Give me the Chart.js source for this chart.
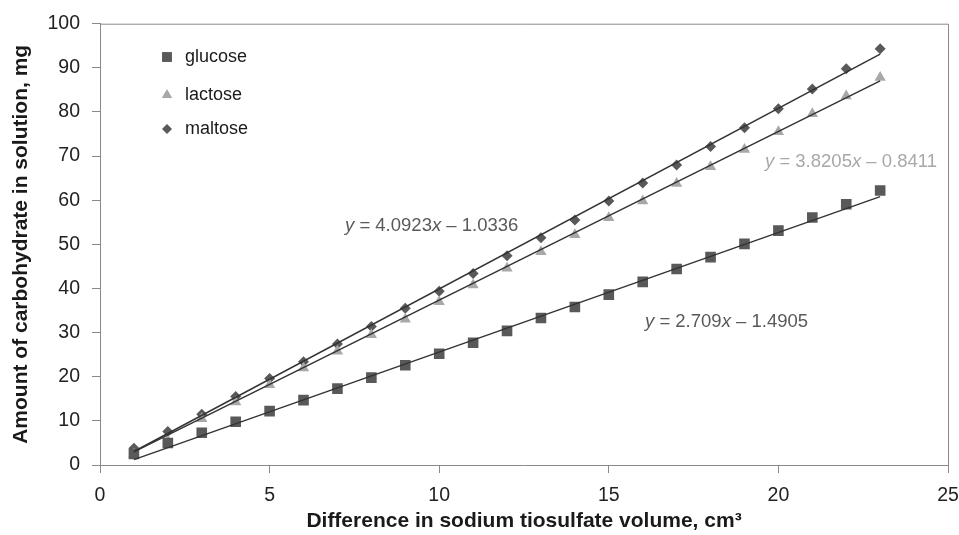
<!DOCTYPE html>
<html>
<head>
<meta charset="utf-8">
<script src="https://cdn.jsdelivr.net/npm/chart.js@4/dist/chart.umd.min.js"></script>
<style>
  html, body { margin: 0; padding: 0; background: #fff; }
  #wrap { width: 959px; height: 535px; position: relative; }
</style>
</head>
<body>
<div id="wrap"><canvas id="chart"></canvas></div>
<script>
// values
const volumes = [1, 2, 3, 4, 5, 6, 7, 8, 9, 10, 11, 12, 13, 14, 15, 16, 17, 18, 19, 20, 21, 22, 23];
const glucose = [2.5, 5, 7.3, 9.8, 12.2, 14.7, 17.3, 19.8, 22.6, 25.2, 27.7, 30.4, 33.3, 35.8, 38.6, 41.5, 44.4, 47.1, 50.1, 53.1, 56.1, 59.1, 62.2];
const lactose = [2.5, 5.5, 10.5, 14.3, 18.2, 22, 25.8, 29.5, 33, 37, 40.8, 44.6, 48.3, 52.2, 56, 59.8, 63.8, 67.6, 71.5, 75.5, 79.6, 83.6, 87.8];
const maltose = [3.8, 7.6, 11.5, 15.5, 19.6, 23.4, 27.4, 31.4, 35.5, 39.4, 43.4, 47.4, 51.5, 55.5, 59.8, 63.9, 68, 72.2, 76.4, 80.7, 85.2, 89.8, 94.3];

// trendline end points (x = 1 and x = 23)
const trendX = [1, 23];
const glucoseTrend = [1.22, 60.82];
const lactoseTrend = [2.98, 87.03];
const maltoseTrend = [3.06, 93.09];

const seriesNames = ['glucose', 'lactose', 'maltose'];
const equations = ['y = 2.709x \u2013 1.4905', 'y = 3.8205x \u2013 0.8411', 'y = 4.0923x \u2013 1.0336'];

const pts = (xs, ys) => xs.map((x, i) => ({ x: x, y: ys[i] }));

const DARK = '#595959';
const LIGHT = '#a8a8a8';
const AXIS = '#8a8a8a';
const FONT = "'Liberation Sans', Arial, sans-serif";

const markerStyles = [
    { pointStyle: 'rect', radius: 7.5, color: DARK },
    { pointStyle: 'triangle', radius: 6.5, color: LIGHT },
    { pointStyle: 'rectRot', radius: 5.5, color: DARK }
];

const trendDataset = (ys) => ({
    type: 'line',
    data: pts(trendX, ys),
    borderColor: '#333',
    borderWidth: 1.5,
    pointRadius: 0,
    fill: false,
    order: 0
});

const markerDataset = (name, ys, m) => ({
    type: 'scatter',
    label: name,
    data: pts(volumes, ys),
    pointStyle: m.pointStyle,
    pointRadius: m.radius,
    pointBackgroundColor: m.color,
    pointBorderColor: m.color,
    pointBorderWidth: 0,
    order: 1
});

// legend, equations and the frame drawn on top of the chart area
const extrasPlugin = {
    id: 'extras',
    afterDraw(chart) {
        const ctx = chart.ctx;
        const area = chart.chartArea;
        ctx.save();
        ctx.strokeStyle = AXIS;
        ctx.lineWidth = 1;
        ctx.beginPath();
        ctx.moveTo(area.left, area.top + 0.5);
        ctx.lineTo(area.right + 0.5, area.top + 0.5);
        ctx.lineTo(area.right + 0.5, area.bottom);
        ctx.stroke();

        // legend
        const legendY = [57, 95, 129];
        seriesNames.forEach((name, i) => {
            const m = markerStyles[i];
            ctx.fillStyle = m.color;
            ctx.strokeStyle = m.color;
            Chart.helpers.drawPoint(ctx, { pointStyle: m.pointStyle, radius: m.radius - 0.5, rotation: 0, borderWidth: 0 }, 167, legendY[i]);
            ctx.fillStyle = '#1a1a1a';
            ctx.font = '18px ' + FONT;
            ctx.textBaseline = 'middle';
            ctx.textAlign = 'left';
            ctx.fillText(name, 185, legendY[i]);
        });

        // trendline equations
        const drawEq = (text, x, y, color) => {
            ctx.fillStyle = color;
            ctx.textBaseline = 'middle';
            let cx = x;
            const parts = text.split(/(x|y)/).filter(s => s.length);
            parts.forEach(p => {
                ctx.font = (p === 'x' || p === 'y' ? 'italic ' : '') + '18.5px ' + FONT;
                ctx.fillText(p, cx, y);
                cx += ctx.measureText(p).width;
            });
        };
        drawEq(equations[2], 345, 226, DARK);
        drawEq(equations[1], 765, 162, LIGHT);
        drawEq(equations[0], 645, 322, DARK);
        ctx.restore();
    }
};

new Chart(document.getElementById('chart'), {
    type: 'scatter',
    data: {
        datasets: [
            trendDataset(glucoseTrend),
            trendDataset(lactoseTrend),
            trendDataset(maltoseTrend),
            markerDataset('glucose', glucose, markerStyles[0]),
            markerDataset('lactose', lactose, markerStyles[1]),
            markerDataset('maltose', maltose, markerStyles[2])
        ]
    },
    options: {
        responsive: true,
        maintainAspectRatio: false,
        animation: false,
        layout: { padding: { top: 21, right: 11, left: 0, bottom: 0 } },
        plugins: {
            legend: { display: false },
            tooltip: { enabled: false }
        },
        scales: {
            x: {
                type: 'linear',
                min: 0,
                max: 25,
                ticks: { stepSize: 5, color: '#222', font: { family: FONT, size: 19.5 }, padding: 11 },
                grid: { drawOnChartArea: false, drawTicks: true, tickLength: 8, color: AXIS },
                border: { color: AXIS },
                title: {
                    display: true,
                    text: 'Difference in sodium tiosulfate volume, cm\u00b3',
                    color: '#1a1a1a',
                    font: { family: FONT, size: 21, weight: 'bold' },
                    padding: { top: 0, bottom: 1 }
                },
                afterFit(scale) {
                    scale.height = 70;
                    scale.paddingLeft = 0;
                    scale.paddingRight = 0;
                }
            },
            y: {
                type: 'linear',
                min: 0,
                max: 100,
                ticks: { stepSize: 10, color: '#222', font: { family: FONT, size: 19.5 }, padding: 12 },
                grid: { drawOnChartArea: false, drawTicks: true, tickLength: 8, color: AXIS },
                border: { color: AXIS },
                title: {
                    display: true,
                    text: 'Amount of carbohydrate in solution, mg',
                    color: '#1a1a1a',
                    font: { family: FONT, size: 21, weight: 'bold' },
                    padding: { top: 9, bottom: 0 }
                },
                afterFit(scale) { scale.width = 100; }
            }
        }
    },
    plugins: [extrasPlugin]
});
</script>
</body>
</html>
